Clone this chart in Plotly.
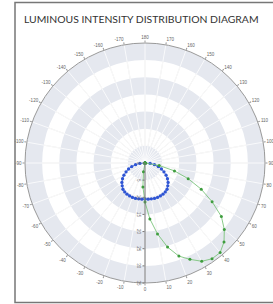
import plotly.graph_objects as go

title_text = "LUMINOUS INTENSITY DISTRIBUTION DIAGRAM"

angles = [-90, -85, -80, -75, -70, -65, -60, -55, -50, -45, -40, -35, -30, -25, -20, -15, -10, -5,
          0, 5, 10, 15, 20, 25, 30, 35, 40, 45, 50, 55, 60, 65, 70, 75, 80, 85, 90]

blue_r = [0, 1.5, 2.8, 4.0, 5.1, 6.1, 7.1, 8.0, 8.8, 9.4, 10.0, 10.3, 10.5, 10.6, 10.7, 10.7, 10.6, 10.6,
          10.5, 10.6, 10.6, 10.7, 10.7, 10.6, 10.5, 10.3, 10.0, 9.4, 8.8, 8.0, 7.1, 6.1, 5.1, 4.0, 2.8, 1.5, 0]

green_r = [0, 0, 0, 0, 0, 0, 0, 0, 0, 0, 0, 0, 0, 0, 0, 0, 2.6, 7.0,
           11.4, 16.4, 21.0, 25.4, 28.9, 31.0, 33.1, 34.1, 34.1, 32.6, 30.2, 27.2, 22.6, 18.1, 13.4, 8.9, 4.2, 0, 0]

band_starts = [0, 10, 20, 30]
band_size = 5
radial_max = 35

angular_tickvals = list(range(0, 360, 10))
angular_ticktext = [str(v if v <= 180 else v - 360) for v in angular_tickvals]

fig = go.Figure()

for b in band_starts:
    fig.add_trace(go.Barpolar(
        r=[band_size], base=[b], theta=[0], width=[360],
        marker=dict(color="#e5e8ef", line=dict(width=0)),
        hoverinfo="skip", showlegend=False,
    ))

# light spokes over the bands (grid styling, derived from the tick values)
spoke_r, spoke_t = [], []
for t in angular_tickvals:
    spoke_r += [0, radial_max, None]
    spoke_t += [t, t, None]
fig.add_trace(go.Scatterpolar(
    r=spoke_r, theta=spoke_t, mode="lines",
    line=dict(color="rgba(255,255,255,0.75)", width=1),
    hoverinfo="skip", showlegend=False,
))

fig.add_trace(go.Scatterpolar(
    r=blue_r, theta=angles, mode="lines+markers",
    line=dict(color="#2f55d4", width=0.8),
    marker=dict(color="#2f55d4", size=3.3),
    showlegend=False,
))

fig.add_trace(go.Scatterpolar(
    r=green_r, theta=angles, mode="lines+markers",
    line=dict(color="#7cc47c", width=0.9),
    marker=dict(color="#3f9d3f", size=3),
    showlegend=False,
))

fig.update_layout(
    width=273, height=304,
    margin=dict(l=0, r=0, t=0, b=0),
    paper_bgcolor="white",
    showlegend=False,
    polar=dict(
        domain=dict(x=[25 / 273, 265 / 273], y=[21 / 304, 261 / 304]),
        bgcolor="white",
        barmode="overlay",
        angularaxis=dict(
            rotation=-90, direction="counterclockwise",
            tickmode="array", tickvals=angular_tickvals, ticktext=angular_ticktext,
            tickfont=dict(size=4.5, color="#666", family="Liberation Sans"),
            ticks="outside", ticklen=2, tickcolor="#999",
            showline=True, linecolor="#999", linewidth=1,
            showgrid=True, gridcolor="#e6e6e6", gridwidth=1,
        ),
        radialaxis=dict(
            range=[0, radial_max], dtick=5, angle=-90, tickangle=0, side="clockwise",
            tickfont=dict(size=4.5, color="#666", family="Liberation Sans"),
            ticks="outside", ticklen=2, tickcolor="#777",
            showline=True, linecolor="#777", linewidth=1,
            showgrid=False,
        ),
    ),
    annotations=[dict(
        text=title_text, xref="paper", yref="paper",
        x=22 / 273, y=(304 - 19) / 304, xanchor="left", yanchor="middle",
        showarrow=False, font=dict(size=10.4, color="#333", family="Lato"),
    )],
    shapes=[dict(
        type="rect", xref="paper", yref="paper",
        x0=15 / 273, x1=1.2, y0=1.5 / 304, y1=(304 - 2.5) / 304,
        line=dict(color="#777", width=1.5),
    )],
)

fig.write_html("out.html", config={"displayModeBar": False},
               post_script="document.body.style.margin='0';")
